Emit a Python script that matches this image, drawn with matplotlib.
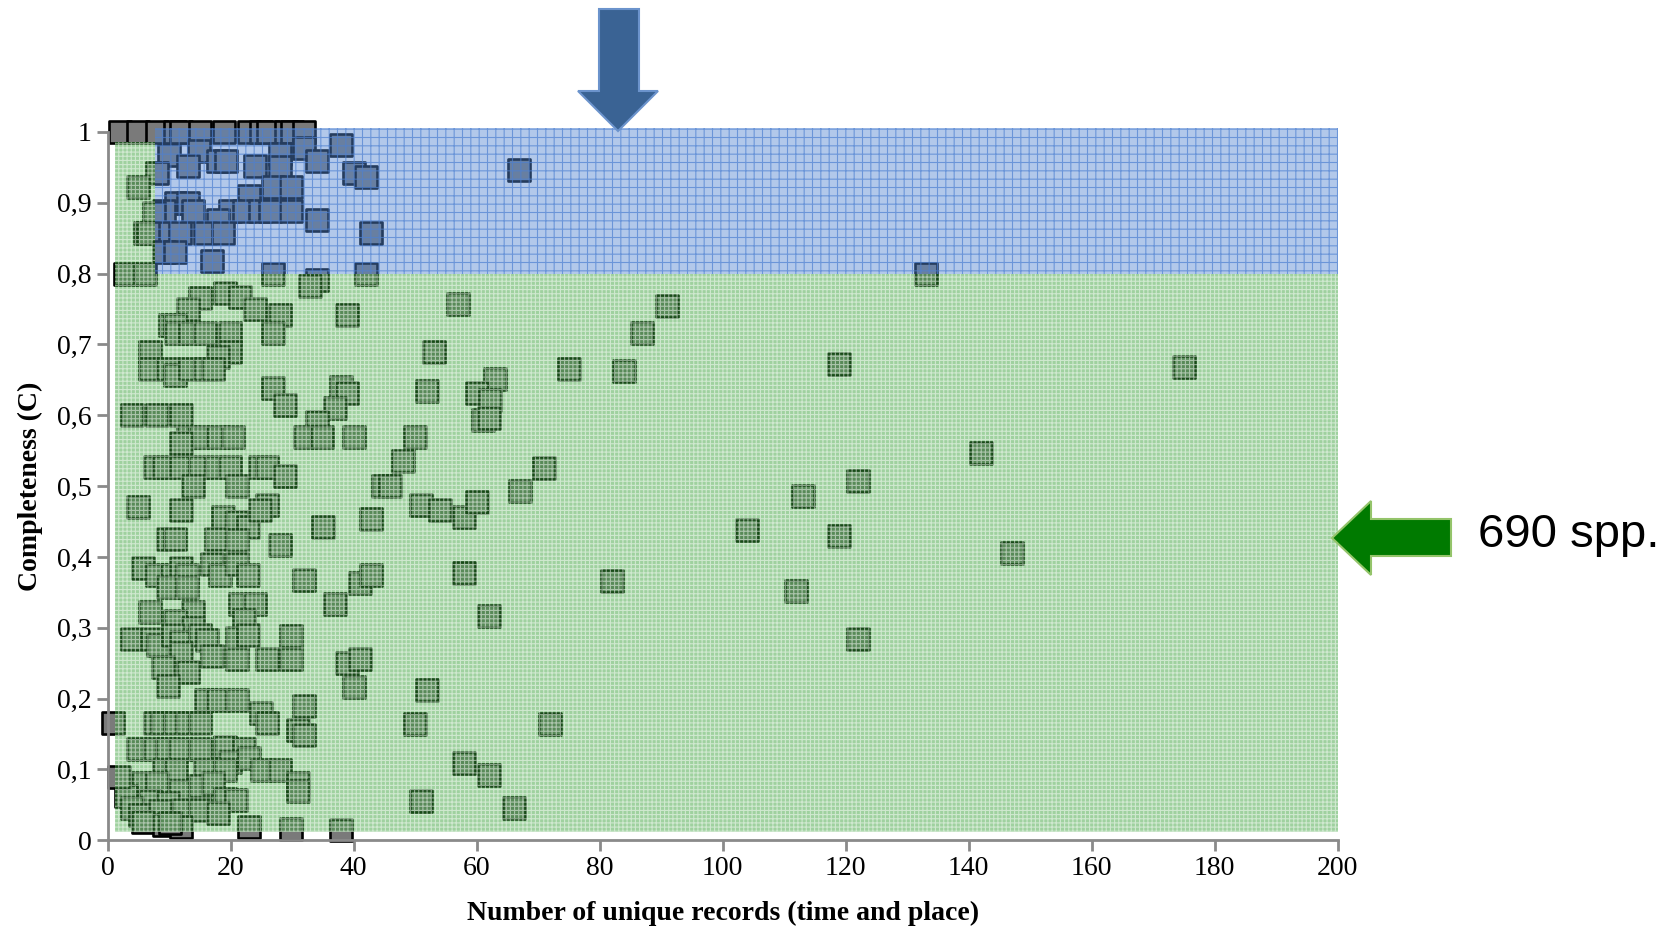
import matplotlib
matplotlib.use("Agg")
import matplotlib.pyplot as plt
from matplotlib.patches import Rectangle, Polygon
from matplotlib.ticker import FuncFormatter

# records (x) and completeness (y) per species
top_x = [2, 5, 8, 11, 12, 15, 19, 23, 25, 26, 29, 30, 32]
top_y = [1.0] * len(top_x)

blue_x = [10.0, 14.9, 13.0, 18.0, 19.3, 24.0, 28.0, 28.0, 31.9, 34.0, 37.9, 40.0, 42.0,
          8.0, 5.0, 26.9, 29.9, 23.0, 11.2, 13.0, 9.1, 13.9, 19.9, 22.1, 24.8, 26.4,
          29.9, 7.5, 18.0, 34.0, 9.1, 11.8, 15.8, 18.8, 6.1, 6.6, 42.9, 9.1, 11.0, 16.9,
          2.8, 6.1, 26.9, 42.0, 66.9, 133.0]
blue_y = [0.968, 0.973, 0.952, 0.959, 0.959, 0.952, 0.969, 0.95, 0.978, 0.959, 0.982, 0.942, 0.937,
          0.942, 0.923, 0.923, 0.923, 0.909, 0.90, 0.90, 0.888, 0.888, 0.888, 0.888, 0.888, 0.888,
          0.888, 0.886, 0.876, 0.876, 0.857, 0.857, 0.857, 0.857, 0.857, 0.857, 0.857, 0.831, 0.831, 0.818,
          0.80, 0.80, 0.80, 0.80, 0.947, 0.80]

green_x = [34.0, 32.9, 19.1, 21.5, 15.0, 24.0, 28.0, 38.9, 13.0, 10.1, 11.0, 11.1, 13.4, 15.8,
           19.9, 26.9, 19.9, 18.0, 6.9, 6.9, 9.9, 11.0, 13.4, 15.8, 17.2, 26.9, 28.8, 37.9,
           39.0, 37.0, 34.0, 32.1, 34.8, 40.0, 4.0, 8.0, 11.9, 13.1, 15.0, 18.0, 20.4, 12.0,
           7.7, 9.1, 12.0, 15.0, 17.7, 19.9, 24.8, 25.9, 28.8, 13.9, 21.0, 44.8, 45.9,
           5.0, 11.9, 18.8, 21.0, 22.9, 25.9, 24.8, 17.7, 21.0, 28.0, 9.9, 11.0, 35.0, 42.9,
           5.8, 8.0, 10.4, 11.9, 12.9, 16.9, 18.3, 21.0, 22.9, 9.9, 12.9, 31.9, 41.0, 42.9,
           6.9, 13.9, 11.0, 13.9, 21.5, 24.0, 22.1, 37.0,
           3.9, 7.2, 8.2, 10.7, 12.0, 15.0, 16.1, 21.0, 22.9, 29.9,
           12.0, 16.9, 21.0, 25.9, 29.9, 38.9, 41.0, 9.0, 13.0, 9.9, 40.0,
           16.0, 18.0, 21.0, 31.9, 24.9, 25.9, 7.7, 8.8, 11.0, 12.9, 15.0, 31.0, 31.9,
           5.0, 7.7, 9.6, 11.8, 15.0, 19.1, 22.1, 19.9, 23.0, 25.1, 28.0, 9.1, 11.2, 15.8, 19.1,
           31.0, 31.0, 5.8, 8.0, 11.8, 15.0, 17.2, 19.1, 20.9, 3.0, 6.9, 9.9, 3.9, 5.3, 8.5,
           12.3, 15.0, 18.0, 5.8, 9.1, 12.0, 10.1, 23.0, 29.9, 37.9, 0.9, 1.9]
green_y = [0.791, 0.782, 0.772, 0.767, 0.765, 0.75, 0.742, 0.742, 0.75, 0.728, 0.728, 0.716, 0.716, 0.716,
           0.716, 0.716, 0.69, 0.683, 0.69, 0.665, 0.665, 0.657, 0.665, 0.665, 0.665, 0.639, 0.615, 0.64,
           0.631, 0.61, 0.59, 0.57, 0.57, 0.57, 0.60, 0.60, 0.60, 0.57, 0.57, 0.57, 0.57, 0.561,
           0.527, 0.527, 0.527, 0.527, 0.527, 0.527, 0.527, 0.527, 0.514, 0.50, 0.50, 0.50, 0.50,
           0.47, 0.466, 0.456, 0.45, 0.443, 0.473, 0.466, 0.426, 0.424, 0.417, 0.426, 0.426, 0.443, 0.453,
           0.384, 0.375, 0.375, 0.384, 0.375, 0.390, 0.375, 0.390, 0.375, 0.358, 0.358, 0.367, 0.363, 0.375,
           0.323, 0.323, 0.309, 0.30, 0.333, 0.333, 0.311, 0.333,
           0.284, 0.284, 0.276, 0.29, 0.28, 0.29, 0.283, 0.285, 0.29, 0.288,
           0.264, 0.26, 0.256, 0.256, 0.256, 0.25, 0.256, 0.245, 0.237, 0.218, 0.216,
           0.198, 0.198, 0.198, 0.19, 0.18, 0.166, 0.165, 0.165, 0.165, 0.165, 0.165, 0.156, 0.149,
           0.129, 0.129, 0.129, 0.129, 0.129, 0.132, 0.129, 0.111, 0.116, 0.099, 0.099, 0.099, 0.099, 0.099, 0.099,
           0.081, 0.07, 0.081, 0.081, 0.069, 0.076, 0.081, 0.059, 0.057, 0.062, 0.055, 0.052, 0.045, 0.036, 0.041,
           0.043, 0.043, 0.038, 0.026, 0.022, 0.019, 0.025, 0.019, 0.016, 0.014, 0.165, 0.09]

far_x = [57.0, 91.0, 86.9, 53.0, 75.0, 84.0, 51.9, 63.0, 60.0, 62.1, 61.0, 62.0, 50.0, 48.0,
         71.0, 67.1, 51.0, 54.0, 58.0, 60.0, 58.0, 82.0, 62.0, 52.0, 50.0, 72.0, 58.0, 62.0,
         51.0, 66.0, 104.0, 113.0, 112.0, 119.0, 119.0, 122.0, 122.0, 142.0, 147.0, 175.0]
far_y = [0.757, 0.755, 0.716, 0.69, 0.665, 0.663, 0.635, 0.651, 0.631, 0.622, 0.593, 0.596, 0.570, 0.535,
         0.525, 0.493, 0.473, 0.467, 0.457, 0.478, 0.378, 0.366, 0.317, 0.212, 0.164, 0.164, 0.109, 0.092,
         0.055, 0.046, 0.438, 0.486, 0.352, 0.672, 0.429, 0.507, 0.284, 0.547, 0.406, 0.668]

y_ticks = [i / 10 for i in range(11)]
x_ticks = list(range(0, 201, 20))

W, H = 1670, 930
plt.rcParams['font.family'] = ['Liberation Serif', 'DejaVu Serif']
plt.rcParams['hatch.linewidth'] = 0.8

fig = plt.figure(figsize=(W / 100, H / 100), dpi=100)
ax = fig.add_axes([107.6 / W, 1 - 840.3 / H, 1230 / W, 708.3 / H])

xs = top_x + blue_x + green_x + far_x
ys = top_y + blue_y + green_y + far_y
ax.scatter(xs, ys, marker='s', s=265, facecolor='#7a7a7a', edgecolor='black',
           linewidth=1.9, zorder=2, clip_on=False)

# shaded zones drawn over the markers
green_zone = [Rectangle((1.2, 0.012), 198.8, 0.788), Rectangle((1.2, 0.8), 6.5, 0.186)]
for r in green_zone:
    r.set(facecolor=(0.2, 0.62, 0.2, 0.47), edgecolor=(1, 1, 1, 0.5), hatch='++++',
          linewidth=0, zorder=3, clip_on=False)
    ax.add_patch(r)
blue_zone = Rectangle((7.7, 0.8), 192.3, 0.205, facecolor=(0.33, 0.53, 0.82, 0.45),
                      edgecolor=(0.3, 0.5, 0.82, 0.7), hatch='++', linewidth=0,
                      zorder=3, clip_on=False)
ax.add_patch(blue_zone)

ax.set_xlim(0, 200)
ax.set_ylim(0, 1)
ax.set_xticks(x_ticks)
ax.set_yticks(y_ticks)
ax.yaxis.set_major_formatter(FuncFormatter(lambda v, p: f"{v:g}".replace('.', ',')))
for s in ['top', 'right']:
    ax.spines[s].set_visible(False)
for s in ['left', 'bottom']:
    ax.spines[s].set_color('#8a8a8a')
    ax.spines[s].set_linewidth(2)
ax.tick_params(colors='#8a8a8a', labelcolor='black', length=8, width=2, labelsize=20)
ax.set_xlabel('Number of unique records (time and place)', fontsize=20, fontweight='bold', labelpad=14)
ax.set_ylabel('Completeness (C)', fontsize=20, fontweight='bold', labelpad=10)


def px(x, y):
    return (x / W, 1 - y / H)


blue_arrow = [(599, 9), (639, 9), (639, 91), (658, 91), (618, 131), (578, 91), (599, 91)]
fig.add_artist(Polygon([px(*p) for p in blue_arrow], closed=True, transform=fig.transFigure,
                       facecolor='#3a6394', edgecolor='#6b93cc', linewidth=1.5))
green_arrow = [(1451, 519), (1451, 556), (1371, 556), (1371, 575), (1332, 538), (1371, 501), (1371, 519)]
fig.add_artist(Polygon([px(*p) for p in green_arrow], closed=True, transform=fig.transFigure,
                       facecolor='#007a00', edgecolor='#94c46a', linewidth=1.5))
fig.text(1478 / W, 1 - 535 / H, '690 spp.', fontsize=34, family=['Liberation Sans', 'DejaVu Sans'],
         va='center', ha='left')

fig.savefig('out.png', dpi=100)
